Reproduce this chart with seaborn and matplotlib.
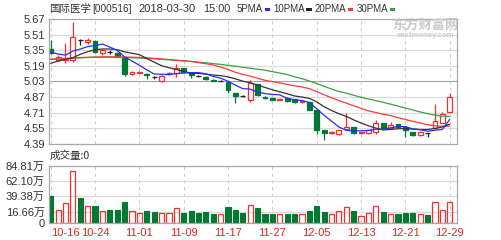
import matplotlib
matplotlib.use("Agg")
import matplotlib.pyplot as plt
from matplotlib.patches import Rectangle
import seaborn as sns
import numpy as np
import pandas as pd

# ---------------- data ----------------
dates = ["10-16","10-17","10-18","10-19","10-20","10-23","10-24","10-25","10-26","10-27",
         "10-30","10-31","11-01","11-02","11-03","11-06","11-07","11-08","11-09","11-10",
         "11-13","11-14","11-15","11-16","11-17","11-20","11-21","11-22","11-23","11-24",
         "11-27","11-28","11-29","11-30","12-01","12-04","12-05","12-06","12-07","12-08",
         "12-11","12-12","12-13","12-14","12-15","12-18","12-19","12-20","12-21","12-22",
         "12-25","12-26","12-27","12-28","12-29"]

opens = [5.36,5.25,5.25,5.25,5.45,5.43,5.445,5.32,5.33,5.32,
         5.275,5.11,5.12,5.11,5.075,5.03,5.11,5.115,5.165,5.115,
         5.09,5.08,5.05,5.04,5.028,4.91,4.88,4.84,5.00,4.875,
         4.86,4.845,4.865,4.848,4.817,4.817,4.738,4.533,4.50,4.49,
         4.544,4.56,4.50,4.50,4.516,4.602,4.55,4.59,4.567,4.516,
         4.482,4.50,4.551,4.602,4.72]
closes = [5.32,5.28,5.27,5.49,5.45,5.45,5.33,5.35,5.33,5.285,
          5.105,5.13,5.13,5.095,5.075,5.09,5.12,5.17,5.13,5.097,
          5.09,5.056,5.035,5.04,4.943,4.885,4.88,5.01,4.89,4.865,
          4.845,4.855,4.83,4.817,4.835,4.738,4.533,4.499,4.516,4.533,
          4.567,4.50,4.51,4.533,4.602,4.551,4.585,4.567,4.533,4.482,
          4.516,4.50,4.624,4.694,4.875]
highs = [5.455,5.30,5.42,5.635,5.47,5.48,5.45,5.36,5.35,5.33,
         5.28,5.14,5.14,5.12,5.09,5.095,5.125,5.205,5.17,5.12,
         5.10,5.085,5.055,5.05,5.03,4.915,4.89,5.045,5.00,4.885,
         4.865,4.86,4.87,4.85,4.84,4.82,4.74,4.535,4.52,4.535,
         4.704,4.56,4.515,4.535,4.64,4.605,4.615,4.595,4.57,4.516,
         4.52,4.505,4.797,4.72,4.91]
lows = [5.31,5.24,5.22,5.23,5.40,5.41,5.32,5.30,5.31,5.28,
        5.09,5.10,5.115,5.055,5.06,5.025,5.10,5.08,5.125,5.063,
        5.08,5.05,5.03,5.03,4.91,4.807,4.87,4.823,4.885,4.85,
        4.84,4.84,4.825,4.81,4.81,4.735,4.49,4.43,4.495,4.485,
        4.54,4.495,4.495,4.495,4.49,4.545,4.545,4.56,4.465,4.475,
        4.475,4.465,4.545,4.60,4.715]

ma5 = [5.329,5.312,5.30,5.342,5.362,5.388,5.398,5.414,5.382,5.349,
       5.28,5.24,5.196,5.149,5.107,5.104,5.102,5.11,5.117,5.121,
       5.121,5.109,5.082,5.064,5.033,4.992,4.957,4.952,4.922,4.906,
       4.898,4.893,4.857,4.842,4.836,4.815,4.751,4.684,4.624,4.564,
       4.53,4.523,4.525,4.529,4.542,4.539,4.556,4.568,4.568,4.544,
       4.537,4.52,4.531,4.539,4.642]
ma10 = [5.216,5.24,5.257,5.274,5.308,5.335,5.355,5.363,5.363,5.356,
        5.334,5.319,5.305,5.266,5.228,5.192,5.171,5.153,5.133,5.114,
        5.113,5.105,5.096,5.09,5.077,5.057,5.033,5.017,4.993,4.969,
        4.945,4.925,4.904,4.882,4.871,4.857,4.822,4.771,4.733,4.70,
        4.672,4.637,4.605,4.576,4.553,4.534,4.54,4.546,4.548,4.543,
        4.538,4.538,4.549,4.565,4.593]
ma20 = [5.26,5.262,5.265,5.27,5.275,5.278,5.28,5.282,5.283,5.283,
        5.281,5.279,5.276,5.272,5.267,5.261,5.255,5.248,5.242,5.235,
        5.223,5.212,5.20,5.178,5.153,5.124,5.102,5.085,5.063,5.042,
        5.029,5.015,5.00,4.986,4.974,4.957,4.927,4.894,4.863,4.835,
        4.809,4.781,4.755,4.729,4.712,4.695,4.681,4.659,4.641,4.622,
        4.605,4.587,4.577,4.571,4.573]
ma30 = [5.255,5.258,5.262,5.267,5.272,5.276,5.278,5.279,5.279,5.278,
        5.276,5.273,5.27,5.266,5.262,5.257,5.252,5.247,5.241,5.235,
        5.228,5.221,5.213,5.205,5.196,5.186,5.176,5.166,5.156,5.146,
        5.131,5.116,5.102,5.079,5.059,5.035,5.008,4.98,4.953,4.928,
        4.91,4.889,4.868,4.85,4.834,4.816,4.798,4.778,4.758,4.738,
        4.718,4.70,4.686,4.675,4.672]

volumes = [40.0,19.0,29.0,77.8,36.5,25.0,25.0,17.5,19.0,19.0,
           31.4,17.5,15.0,17.5,15.5,14.0,14.0,22.4,14.0,17.5,
           15.0,16.5,12.5,12.5,24.0,19.0,15.0,26.5,21.5,13.0,
           12.5,12.5,12.5,13.0,12.5,17.5,25.0,16.5,12.5,17.5,
           23.0,17.5,10.5,14.0,25.0,16.5,13.0,12.5,15.0,14.0,
           13.0,11.5,30.5,19.0,30.5]

price_ticks = [4.39, 4.55, 4.71, 4.87, 5.03, 5.19, 5.35, 5.51, 5.67]
vol_ticks = [0, 16.66, 39.38, 62.10, 84.81]
vol_tick_labels = ["0", "16.66万", "39.38万", "62.10万", "84.81万"]
date_tick_idx = [0, 6, 12, 18, 24, 30, 36, 42, 48, 54]

# ---------------- style ----------------
sns.set_theme(style="white")
plt.rcParams['font.family'] = ['Liberation Sans', 'Noto Sans CJK SC', 'DejaVu Sans']

RED = '#f23030'
GREEN = '#007a33'
BLACK = '#222222'
C5, C10, C20, C30 = '#2a2aff', '#333333', '#ff3a3a', '#3aa43a'
GRID = '#dadada'
SPINE = '#a8a8a8'
TXT = '#333333'

W, H = 502, 240
fig = plt.figure(figsize=(W / 100, H / 100), dpi=100)
fig.patch.set_facecolor('white')
axp = fig.add_axes([49 / W, 1 - 144 / H, 408 / W, 125 / H])
axv = fig.add_axes([49 / W, 1 - 222.7 / H, 408 / W, 56.7 / H])

n = len(dates)
days = np.arange(n)
xlim = (-0.23, 54.98)

# ---------------- price panel ----------------
for lvl in price_ticks[1:-1]:
    axp.axhline(lvl, color='#a0a0a0' if abs(lvl - 5.03) < 1e-6 else GRID, lw=0.8, zorder=0)
for t in date_tick_idx:
    axp.axvline(t, color='#cfcfcf', lw=0.8, dashes=(3, 3), zorder=0)
    axv.axvline(t, color='#cfcfcf', lw=0.8, dashes=(3, 3), zorder=0)

bw = 0.66
for i in range(n):
    o, c, h, l = opens[i], closes[i], highs[i], lows[i]
    if abs(c - o) < 1e-9:
        axp.vlines(i, l, h, color=BLACK, lw=0.9, zorder=2)
        axp.hlines(c, i - bw / 2, i + bw / 2, color=BLACK, lw=0.9, zorder=2)
    elif c > o:
        axp.vlines(i, c, h, color=RED, lw=0.9, zorder=2)
        axp.vlines(i, l, o, color=RED, lw=0.9, zorder=2)
        axp.add_patch(Rectangle((i - bw / 2, o), bw, c - o, facecolor='white',
                                edgecolor=RED, lw=0.9, zorder=2))
    else:
        axp.vlines(i, l, h, color=GREEN, lw=0.9, zorder=2)
        axp.add_patch(Rectangle((i - bw / 2, c), bw, o - c, facecolor=GREEN,
                                edgecolor=GREEN, lw=0.9, zorder=2))

for ma, col in [(ma30, C30), (ma20, C20), (ma10, C10), (ma5, C5)]:
    sns.lineplot(x=days, y=ma, ax=axp, color=col, linewidth=0.9, legend=False, zorder=3)

axp.set_xlim(*xlim)
axp.set_ylim(4.39, 5.67)
axp.set_yticks(price_ticks)
axp.set_yticklabels([f"{v:.2f}" for v in price_ticks], fontsize=8, color=TXT)
axp.set_xticks([])
axp.tick_params(axis='y', length=0, pad=3)
axp.set_xlabel('')
axp.set_ylabel('')

# ---------------- volume panel ----------------
up = []
for i in range(n):
    if closes[i] > opens[i]:
        up.append(True)
    elif closes[i] < opens[i]:
        up.append(False)
    else:
        up.append(i > 0 and closes[i] >= closes[i - 1])
df = pd.DataFrame({'day': days, 'vol': volumes, 'up': up})

for lvl in vol_ticks[1:-1]:
    axv.axhline(lvl, color=GRID, lw=0.8, zorder=0)

sns.barplot(data=df[~df['up']], x='day', y='vol', native_scale=True, color=GREEN,
            saturation=1, width=0.7, errorbar=None, edgecolor=GREEN, linewidth=0.8,
            ax=axv, zorder=2)
sns.barplot(data=df[df['up']], x='day', y='vol', native_scale=True, color=RED,
            saturation=1, width=0.7, errorbar=None, fill=False, linewidth=0.9,
            ax=axv, zorder=2)

axv.set_xlim(*xlim)
axv.set_ylim(0, 84.81)
axv.set_yticks(vol_ticks)
axv.set_yticklabels(vol_tick_labels, fontsize=8, color=TXT)
axv.set_xticks(date_tick_idx)
xl = axv.set_xticklabels([dates[i] for i in date_tick_idx], fontsize=8, color='#e82020')
xl[0].set_horizontalalignment('left')
axv.tick_params(axis='both', length=0, pad=3)
axv.tick_params(axis='x', pad=4)
axv.set_xlabel('')
axv.set_ylabel('')

for ax in (axp, axv):
    for s in ax.spines.values():
        s.set_color(SPINE)
        s.set_linewidth(0.9)
        s.set_visible(True)
    ax.grid(False)

# ---------------- header / labels ----------------
def fx(px):
    return px / W

def fy(py):
    return 1 - py / H

renderer = fig.canvas.get_renderer()

def fitted_text(x0, x1, yc, s, size, family=None, min_size=7.0, **kw):
    """Place text at pixel x0, shrinking (down to min_size) to end near pixel x1.
    Returns the pixel x where the text ends."""
    kwargs = dict(fontsize=size, color=TXT, va='center')
    if family is not None:
        kwargs['family'] = family
    kwargs.update(kw)
    t = fig.text(fx(x0), fy(yc), s, **kwargs)
    bb = t.get_window_extent(renderer)
    width = bb.x1 - bb.x0
    target = x1 - x0
    if width > target:
        t.set_fontsize(max(min_size, size * target / width))
    bb = t.get_window_extent(renderer)
    return bb.x1

hy = 9
cjk = ['Noto Sans CJK SC', 'DejaVu Sans']
e = fitted_text(49, 91, hy, "国际医学", 8, cjk)
e = fitted_text(max(91, e + 1), 131, hy, "[000516]", 8)
e = fitted_text(max(138, e + 5), 197, hy, "2018-03-30", 8)
e = fitted_text(max(203, e + 5), 230, hy, "15:00", 8)

legend_items = [("5PMA", 237, 260, C5), ("10PMA", 272, 298, BLACK),
                ("20PMA", 308, 335, C20), ("30PMA", 346, 373, C30)]
for label, tx, te, col in legend_items:
    start = max(tx, e + 3)
    e_txt = fitted_text(start, start + (te - tx), hy, label, 7.5, min_size=7.0)
    fig.patches.append(Rectangle((fx(e_txt + 1.5), fy(10.5)), 5.5 / W, 3 / H,
                                 transform=fig.transFigure, facecolor=col, edgecolor='none'))
    e = e_txt + 7

fig.text(fx(50), fy(156), "成交量:0", fontsize=7.6, color=TXT, va='center', family=cjk)

# watermark
fig.text(fx(425), fy(25), "东方财富网", fontsize=9.5, color='#c9c9c9', va='center',
         ha='center', fontweight='bold', family=cjk)
fig.text(fx(426), fy(35.5), "eastmoney.com", fontsize=5.6, color='#cfcfcf', va='center',
         ha='center', fontweight='bold')

fig.savefig("out.png", dpi=100, facecolor='white')
